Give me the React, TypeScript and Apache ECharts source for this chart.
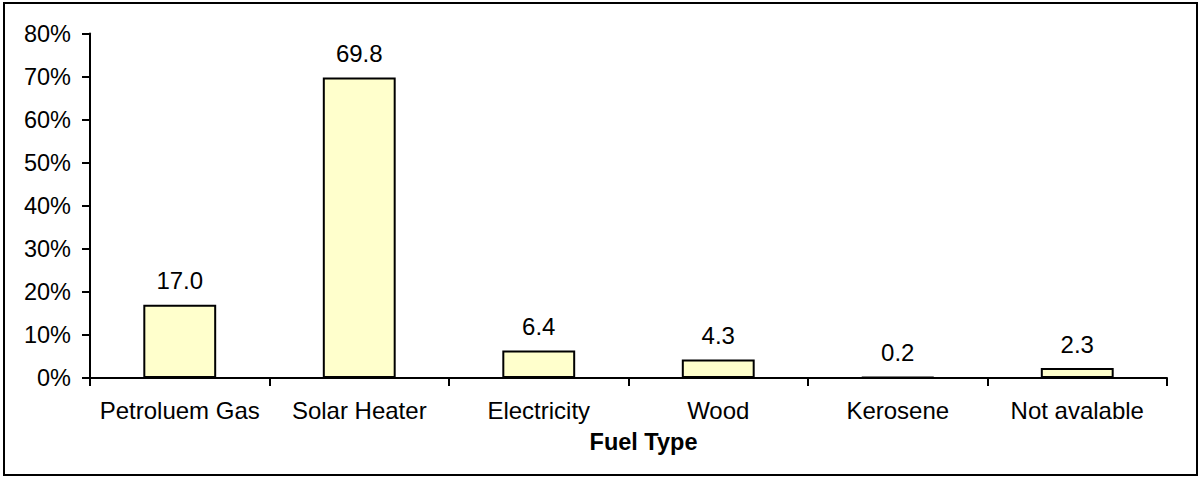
import React, { useEffect, useRef } from "react";
import * as echarts from "echarts";

const categories = ["Petroluem Gas", "Solar Heater", "Electricity", "Wood", "Kerosene", "Not avalable"];
const values = [17.0, 69.8, 6.4, 4.3, 0.2, 2.3];
const axisTitle = "Fuel Type";

export default function App() {
  const ref = useRef<HTMLDivElement>(null);
  useEffect(() => {
    document.body.style.margin = "0";
    const chart = echarts.init(ref.current!, undefined, { renderer: "svg" });
    const font = "'Liberation Sans', Arial, sans-serif";
    chart.setOption({
      animation: false,
      backgroundColor: "#ffffff",
      graphic: [
        {
          type: "rect",
          shape: { x: 4, y: 3, width: 1193, height: 472 },
          style: { fill: "none", stroke: "#000", lineWidth: 2 },
          silent: true,
        },
      ],
      grid: { left: 90, right: 33, top: 33.5, bottom: 99 },
      xAxis: {
        type: "category",
        data: categories,
        name: axisTitle,
        nameLocation: "middle",
        nameGap: 52,
        nameTextStyle: {
          fontFamily: font,
          fontSize: 23.5,
          fontWeight: "bold",
          color: "#000",
          padding: [0, 0, 0, 30],
        },
        axisLine: { lineStyle: { color: "#000", width: 2 } },
        axisTick: { show: true, length: 8, lineStyle: { color: "#000", width: 2 }, alignWithLabel: false },
        axisLabel: { fontFamily: font, fontSize: 24, color: "#000", margin: 20, interval: 0 },
      },
      yAxis: {
        type: "value",
        min: 0,
        max: 80,
        interval: 10,
        axisLine: { show: true, lineStyle: { color: "#000", width: 2 } },
        axisTick: { show: true, length: 8, lineStyle: { color: "#000", width: 2 } },
        splitLine: { show: false },
        axisLabel: { fontFamily: font, fontSize: 23.5, color: "#000", margin: 19, formatter: "{value}%" },
      },
      series: [
        {
          type: "bar",
          data: values,
          barWidth: "40.6%",
          itemStyle: { color: "#FFFFCC", borderColor: "#000", borderWidth: 2 },
          label: {
            show: true,
            position: "top",
            distance: 12,
            fontFamily: font,
            fontSize: 24,
            color: "#000",
            formatter: (p: any) => Number(p.value).toFixed(1),
          },
        },
      ],
    });
    return () => chart.dispose();
  }, []);
  return <div ref={ref} style={{ width: 1200, height: 477 }} />;
}
